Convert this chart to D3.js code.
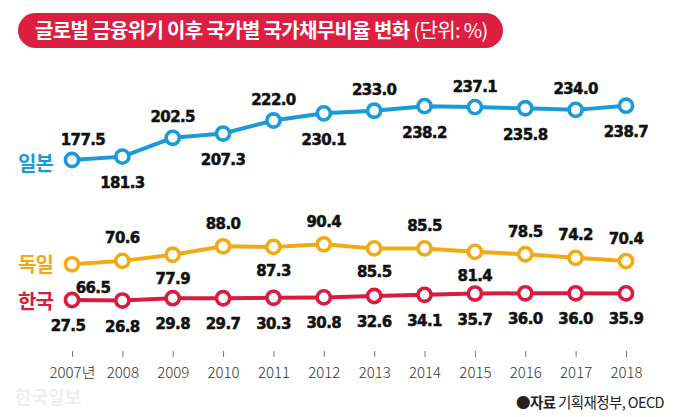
<!DOCTYPE html>
<html><head><meta charset="utf-8">
<script src="https://cdn.jsdelivr.net/npm/d3@7"></script>
<style>
html,body{margin:0;padding:0;background:#fff;}
svg{display:block;}
</style></head>
<body>
<svg id="chart" width="680" height="417"></svg>
<script>
// ---- data ----
const years = [2007,2008,2009,2010,2011,2012,2013,2014,2015,2016,2017,2018];
const yearLabels = ["2007년","2008","2009","2010","2011","2012","2013","2014","2015","2016","2017","2018"];
const japan   = [177.5,181.3,202.5,207.3,222.0,230.1,233.0,238.2,237.1,235.8,234.0,238.7];
const germany = [66.5,70.6,77.9,88.0,87.3,90.4,85.5,85.5,81.4,78.5,74.2,70.4];
const korea   = [27.5,26.8,29.8,29.7,30.3,30.8,32.6,34.1,35.7,36.0,36.0,35.9];
const seriesNames = ["일본","독일","한국"];
const titleMain = "글로벌 금융위기 이후 국가별 국가채무비율 변화";
const titleUnit = "(단위: %)";
const sourceBold = "●자료";
const sourceText = "기획재정부, OECD";

// ---- drawing ----
const svg = d3.select("#chart");
const colors = {jp:"#1b9ad8", de:"#f0ab14", kr:"#d81b3f"};
const x = d3.scalePoint().domain(years).range([72, 626]);

const yJ = d3.scaleLinear().domain([177.5, 238.7]).range([160, 105.7]);
const yD = d3.scaleLinear().domain([66.5, 90.4]).range([264.3, 244.3]);
const yK = d3.scaleLinear().domain([27.5, 36.0]).range([300, 293.3]);

// title
const tg = svg.append("g");
tg.append("rect").attr("x",18).attr("y",13).attr("width",485).attr("height",35)
  .attr("rx",17.5).attr("fill","#dc1f40");
const tt = tg.append("text").attr("x",35).attr("y",38)
  .attr("fill","#fff").attr("font-family","'Noto Sans CJK KR', sans-serif")
  .attr("font-size",20).attr("letter-spacing","-0.65");
tt.append("tspan").attr("font-weight",700).text(titleMain + " ");
tt.append("tspan").attr("font-weight",400).text(titleUnit);

// axis
const axis = d3.axisBottom(x).tickSize(6).tickPadding(10)
  .tickFormat((d,i)=>yearLabels[i]);
const ag = svg.append("g").attr("transform","translate(0,351)").call(axis);
ag.select(".domain").remove();
ag.selectAll(".tick line").attr("stroke","#777").attr("stroke-width",1);
ag.selectAll(".tick text").attr("fill","#333").attr("font-size",15)
  .attr("font-family","'Noto Sans CJK KR', 'Noto Sans', sans-serif").attr("font-weight",300);

const series = [
  {key:"jp", name:seriesNames[0], vals:japan, y:yJ, color:colors.jp,
   sides:["a","b","a","b","a","b","a","b","a","b","a","b"], up:-15.5, down:31.5, labelY:171},
  {key:"de", name:seriesNames[1], vals:germany, y:yD, color:colors.de,
   sides:["b","a","b","a","b","a","b","a","b","a","a","a"], up:-17.5, down:29, labelY:272},
  {key:"kr", name:seriesNames[2], vals:korea, y:yK, color:colors.kr,
   sides:["b","b","b","b","b","b","b","b","b","b","b","b"], up:-17, down:31, labelY:309}
];
const dxFirst = {jp:11, de:21, kr:-4};

const line = (s)=>d3.line().x((d,i)=>x(years[i])).y(d=>s.y(d));

series.forEach(s=>{
  const g = svg.append("g");
  g.append("path").datum(s.vals).attr("d", line(s)).attr("fill","none")
    .attr("stroke", s.color).attr("stroke-width",4);
  g.selectAll("circle").data(s.vals).join("circle")
    .attr("cx",(d,i)=>x(years[i])).attr("cy",d=>s.y(d)).attr("r",6.6)
    .attr("fill","#fff").attr("stroke",s.color).attr("stroke-width",3.6);
  svg.append("text").attr("x",18).attr("y",s.labelY).attr("fill",s.color)
    .attr("font-family","'Noto Sans CJK KR', sans-serif").attr("font-size",20)
    .attr("font-weight",700).attr("letter-spacing","-1").text(s.name);
});

// value labels on top
series.forEach(s=>{
  svg.append("g").selectAll("text").data(s.vals).join("text")
    .attr("x",(d,i)=>x(years[i]) + (i===0 ? dxFirst[s.key] : 0))
    .attr("y",(d,i)=>s.y(d) + (s.sides[i]==="a" ? s.up : s.down))
    .attr("text-anchor","middle").attr("fill","#111")
    .attr("font-family","'DejaVu Sans', sans-serif").attr("font-weight",700)
    .attr("font-size",15).attr("letter-spacing","-0.6")
    .attr("stroke","#111").attr("stroke-width",0.5)
    .text(d=>d.toFixed(1));
});

// watermark
svg.append("text").attr("x",15).attr("y",404).attr("fill","#efefef")
  .attr("font-family","'Noto Sans CJK KR', sans-serif").attr("font-size",18)
  .attr("font-weight",700).text("한국일보");

// source
const st = svg.append("text").attr("x",664).attr("y",408).attr("text-anchor","end")
  .attr("fill","#222").attr("font-family","'Noto Sans CJK KR', sans-serif")
  .attr("font-size",14.5).attr("letter-spacing","-0.6");
st.append("tspan").attr("font-weight",700).text(sourceBold + " ");
st.append("tspan").attr("font-weight",400).text(sourceText);
</script>
</body></html>
